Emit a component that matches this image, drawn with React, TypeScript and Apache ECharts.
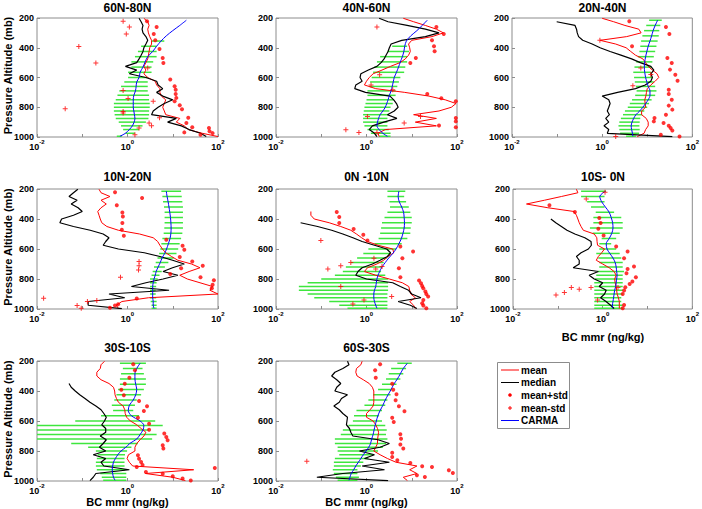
import { useEffect, useRef } from "react";
import * as echarts from "echarts";

// pressure levels (mb) of the observed profiles and of the CARMA model
const PO = [202, 225, 250, 275, 300, 325, 350, 375, 400, 425, 450, 475, 500, 525, 550, 575, 600, 625, 650, 675, 700, 725, 750, 775, 800, 825, 850, 875, 900, 925, 950, 975, 997];
const PM = [215, 250, 285, 320, 355, 390, 425, 460, 495, 530, 565, 600, 630, 660, 690, 720, 750, 775, 800, 825, 850, 875, 900, 925, 950, 975, 995];

const TITLES = ["60N-80N", "40N-60N", "20N-40N", "10N-20N", "0N -10N", "10S- 0N", "30S-10S", "60S-30S"];
const Y_NAME = "Pressure Altitude (mb)";
const X_NAME = "BC mmr (ng/kg)";
const LEGEND_NAMES = ["mean", "median", "mean+std", "mean-std", "CARMA"];

// ---------- 60N-80N ----------
const median1 = [1.8, 2.0, 2.2, 2.1, 2.2, 2.55, 2.8, 2.55, 2.3, 2.2, 2.0, 1.8, 1.6, 0.9, 1.6, 1.1, 2.55, 4.4, 4.75, 6.0, 4.4, 6.0, 10, 6.5, 4.75, 3.7, 3.4, 12, 7.7, 15.5, 23, 41, 55];
const mean1 = [2.3, 2.8, 3.0, 2.8, 2.9, 3.1, 3.4, 3.4, 3.1, 3.0, 2.9, 2.8, 2.55, 2.3, 2.55, 2.3, 2.8, 4.1, 4.4, 5.2, 5.2, 5.6, 7.0, 6.5, 6.0, 6.5, 7.0, 14.3, 12, 18, 22, 45, 100];
const dotP1 = [222, 260, 307, 350, 408, 469, 502, 614, 659, 682, 711, 737, 759, 787, 814, 870, 906, 935, 940, 962, 974, 969, 985];
const dotX1 = [2.7, 4.4, 3.8, 4.1, 5.1, 6.0, 6.2, 8.8, 11, 11.6, 11.6, 12, 11, 14.3, 16, 22, 20, 27, 63, 65, 76, 18, 41];
const plusP1 = [222, 260, 307, 391, 502, 536, 687, 742, 760, 810, 828, 839, 870, 906, 924, 940, 985];
const plusX1 = [0.8, 1.1, 0.94, 0.084, 0.2, 2.8, 0.8, 1.03, 3.7, 0.042, 0.8, 0.8, 5.1, 3.0, 3.4, 1.8, 1.46];
const carma1 = [20, 14.3, 10, 7.2, 5.5, 4.4, 3.6, 2.8, 2.45, 2.2, 1.9, 1.8, 1.6, 1.55, 1.5, 1.38, 1.34, 1.34, 1.34, 1.38, 1.42, 1.46, 1.4, 1.28, 1.1, 0.9, 0.68];
const lo1 = [null, null, null, null, 3.4, 2.0, 1.7, 1.46, 1.22, 1.22, 1.03, 1.03, 0.85, 0.72, 0.66, 0.6, 0.55, 0.5, 0.5, 0.5, 0.52, 0.55, 0.64, 0.72, 0.8, 0.9, 0.58];
const hi1 = [null, null, null, null, 6.5, 4.4, 4.4, 4.4, 3.7, 3.4, 3.4, 2.8, 2.8, 2.8, 2.8, 3.0, 3.0, 3.1, 3.1, 3.0, 3.0, 2.9, 2.55, 2.15, 1.8, 1.46, 0.75];

// ---------- 40N-60N ----------
const median2 = [1.9, 3.0, 7.9, 20, 40, 20, 6, 3.5, 3.2, 3.0, 2.7, 2.45, 2.1, 1.7, 1.1, 0.75, 0.72, 0.8, 0.58, 0.55, 0.95, 3.3, 4.0, 4.6, 5.0, 4.1, 2.9, 4.7, 2.4, 1.35, 1.15, 1.5, 1.7];
const mean2 = [6.5, 11, 20, 35, 50, 28, 10, 8.5, 9, 9.3, 8.5, 7.2, 5.5, 3.4, 2.2, 1.4, 1.15, 1.0, 0.9, 1.6, 7, 24, 55, 95, 75, 40, 11, 35, 12, 35, 2.6, 1.8, 1.9];
const dotP2 = [260, 307, 350, 390, 424, 469, 502, 711, 740, 760, 872, 895, 922, 935];
const dotX2 = [35, 51, 28, 31, 32, 12.3, 9.3, 22, 45, 94, 94, 94, 40, 94];
const plusP2 = [260, 581, 650, 682, 862, 862, 906, 951, 969, 969];
const plusX2 = [1.7, 1.95, 1.26, 3.8, 1.05, 15.6, 6.8, 0.35, 0.68, 1.7];
const carma2 = [22, 17, 13, 9.5, 7.6, 7.0, 6.7, 6.2, 5.6, 5.1, 4.6, 4.1, 3.9, 3.7, 3.5, 3.2, 3.0, 2.8, 2.6, 2.3, 2.0, 1.85, 1.75, 1.7, 1.9, 2.3, 2.9];
const lo2 = [null, null, null, null, null, 3.7, 2.9, 2.0, 1.7, 1.5, 1.4, 1.3, 1.2, 1.15, 1.05, 1.05, 1.0, 0.95, 0.9, 0.87, 0.84, 0.84, 0.84, 0.9, 1.05, 1.25, 1.9];
const hi2 = [null, null, null, null, null, 7.9, 8.7, 7.9, 7.9, 7.2, 6.8, 5.6, 5.2, 4.8, 4.4, 4.4, 4.0, 3.8, 3.4, 3.2, 3.1, 2.9, 2.9, 2.9, 3.1, 3.4, 3.4];

// ---------- 20N-40N ----------
const median3 = [null, 0.098, 0.25, 0.27, 0.28, 0.3, 0.37, 0.6, 0.9, 1.5, 2.6, 4.5, 7.0, 12, 14, 12, 13, 12, 9, 5.5, 2.2, 1.0, 1.4, 1.5, 1.4, 1.3, 1.45, 1.2, 1.4, 1.1, 1.4, 1.3, 36];
const mean3 = [1.0, 1.8, 3.2, 6.5, 7.3, 3.5, 0.9, 2.0, 3.4, 4.3, 5.5, 8.0, 9.2, 10.5, 13, 16.5, 18, 15, 12, 10, 9.6, 9.3, 8.8, 9.0, 9.2, 7.5, 7.5, 9.5, 10.5, 10.5, 9.2, 8.5, 6];
const dotP3 = [222, 260, 307, 390, 469, 502, 547, 581, 622, 682, 711, 749, 789, 816, 850, 872, 895, 906, 924, 940, 957, 985, 996];
const dotX3 = [4, 26, 31, 4.6, 28, 35, 32, 42, 47, 30, 30, 35, 30, 36, 26, 14.5, 14, 23, 30, 33, 36, 20, 52];
const plusP3 = [350, 536, 580, 655, 996];
const plusX3 = [0.89, 7.2, 12, 4.8, 2.0];
const carma3 = [17, 15, 13.5, 12.5, 11.5, 10.5, 9.8, 9.2, 8.8, 8.6, 8.8, 9.2, 9.8, 10.5, 11.5, 11.5, 10.5, 9.2, 8.0, 6.8, 5.6, 5.0, 4.6, 4.4, 4.5, 4.7, 4.8];
const lo3 = [11, 9.5, 8.5, 7.8, 7.3, 7.0, 6.7, 6.2, 5.7, 5.2, 4.9, 5.1, 5.3, 5.6, 5.8, 5.4, 4.6, 4.1, 3.7, 3.2, 2.9, 2.6, 2.4, 2.3, 2.4, 2.5, 3.4];
const hi3 = [21, 19.5, 18.5, 18, 17, 16, 15, 14, 13, 12.3, 12, 13, 14, 15, 16, 15, 12.5, 11, 10, 8.6, 7.7, 7, 6.8, 6.7, 6.8, 6.6, 5.6];

// ---------- 10N-20N ----------
const median4 = [0.08, 0.064, 0.051, 0.077, 0.057, 0.081, 0.1, 0.064, 0.035, 0.032, 0.064, 0.15, 0.29, 0.39, 0.33, 0.29, 0.63, 2.35, 5.2, 9.9, 18, 9.9, 6.1, 13, 6.1, 2.55, 1.22, 8.3, 0.39, 0.87, 0.135, 0.135, 0.75];
const mean4 = [0.235, 0.26, 0.41, 0.26, 0.34, 0.26, 0.22, 0.235, 0.25, 0.27, 0.35, 0.63, 1.85, 3.7, 4.65, 5.2, 5.9, 7.0, 9.4, 13, 26, 40, 23, 14.3, 21, 40, 76, 66, 100, 2.9, 0.75, 0.57, 0.63];
const dotP4 = [222, 260, 309, 356, 383, 427, 472, 512, 539, 579, 605, 654, 683, 712, 728, 766, 788, 808, 839, 861, 930, 968, 977, 991];
const dotX4 = [0.53, 2.1, 0.58, 0.77, 0.79, 0.77, 0.75, 0.83, 7.2, 16.5, 18, 14.3, 27, 46, 15.3, 8.8, 41, 81, 76, 73, 1.6, 0.62, 0.53, 0.41];
const plusP4 = [683, 712, 740, 788, 928, 944, 950, 977, 995];
const plusX4 = [1.8, 1.8, 1.75, 0.7, 0.014, 0.21, 0.13, 0.077, 0.095];
const carma4 = [7.2, 7.5, 7.9, 8.25, 8.6, 8.9, 9.1, 9.2, 9.1, 8.7, 8.0, 7.3, 6.6, 5.8, 5.3, 4.75, 4.3, 4.1, 3.85, 3.7, 3.6, 3.6, 3.6, 3.6, 3.7, 3.7, 3.85];
const lo4 = [5.6, 5.9, 6.1, 6.4, 6.6, 6.6, 6.6, 6.5, 6.3, 5.9, 5.6, 5.3, 5.0, 4.6, 4.2, 3.85, 3.6, 3.4, 3.15, 3.15, 3.15, 3.15, 3.15, 3.15, 3.25, 3.4, 3.4];
const hi4 = [15.3, 15.8, 16.3, 16.8, 16.8, 16.8, 16.8, 16.8, 16.3, 15.3, 14.2, 13.2, 12.1, 10.5, 8.0, 6.7, 5.7, 5.1, 4.65, 4.4, 4.3, 4.2, 4.2, 4.3, 4.4, 4.4, 4.4];

// ---------- 0N -10N ----------
const median5 = [null, null, null, null, null, null, null, null, null, 0.035, 0.083, 0.17, 0.3, 0.5, 0.8, 1.5, 2.8, 3.4, 2.9, 2.0, 1.35, 0.8, 0.65, 0.58, 1.0, 3.8, 5.6, 8.5, 10, 16, 5, 9.3, 13];
const mean5 = [null, null, null, null, null, null, 0.059, 0.059, 0.07, 0.15, 0.27, 0.45, 0.6, 0.78, 1.05, 1.8, 3.8, 4.0, 3.0, 2.4, 1.7, 1.05, 0.9, 1.6, 3.2, 6.2, 8.6, 9.0, 9.5, 12, 9, 11, 12];
const dotP5 = [354, 387, 427, 467, 505, 543, 583, 616, 661, 728, 788, 810, 828, 846, 861, 884, 900, 917, 940, 962, 977, 995];
const dotX5 = [0.22, 0.25, 0.25, 0.52, 0.85, 1.05, 5.6, 10.7, 6.2, 5.2, 5.6, 14.5, 16, 17, 18, 20, 21, 23, 18, 17, 18, 21];
const plusP5 = [543, 661, 690, 712, 717, 734, 734, 850, 917, 940, 966];
const plusX5 = [0.098, 1.46, 0.45, 0.27, 2.2, 0.14, 1.6, 0.27, 3.6, 0.88, 0.5];
const carma5 = [5.2, 5.0, 5.3, 6.0, 6.6, 6.8, 6.9, 6.8, 6.4, 5.9, 5.2, 4.5, 3.8, 3.1, 2.6, 2.2, 1.95, 1.8, 1.7, 1.65, 1.6, 1.5, 1.45, 1.45, 1.5, 1.6, 1.7];
const lo5 = [2.9, 2.9, 3.2, 3.3, 2.9, 2.5, 2.2, 2.1, 2.0, 1.85, 1.5, 1.1, 0.85, 0.62, 0.45, 0.35, 0.3, 0.2, 0.1, 0.05, 0.032, 0.032, 0.05, 0.07, 0.15, 0.25, 0.38];
const hi5 = [7.2, 6.8, 7.5, 8.6, 9.3, 10, 10, 9.5, 9.3, 8.0, 6.0, 4.5, 3.4, 2.8, 2.4, 2.2, 2.1, 2.6, 3.0, 3.0, 3.0, 3.0, 2.9, 2.9, 2.9, 2.9, 2.9];

// ---------- 10S- 0N ----------
const median6 = [null, null, null, null, null, null, null, null, 0.07, 0.09, 0.12, 0.16, 0.24, 0.4, 0.55, 0.56, 0.48, 0.33, 0.26, 0.3, 0.3, 0.22, 0.8, 0.5, 0.65, 1.0, 0.84, 1.2, 1.1, 0.9, 1.19, 1.5, 1.8];
const mean6 = [0.26, 0.28, 0.12, 0.05, 0.02, 0.06, 0.23, 0.26, 0.28, 0.3, 0.33, 0.37, 0.65, 0.74, 0.75, 0.77, 1.1, 0.95, 0.8, 0.72, 1.0, 1.4, 1.8, 2.0, 1.85, 1.9, 2.0, 2.05, 2.1, 2.25, 2.35, 2.35, 2.35];
const dotP6 = [309, 354, 394, 427, 465, 510, 583, 616, 661, 716, 734, 761, 788, 817, 833, 855, 877, 900, 973, 995];
const dotX6 = [0.065, 0.24, 0.84, 0.9, 0.8, 1.05, 2.0, 3.6, 3.0, 5.0, 3.6, 3.4, 5.5, 4.6, 4.0, 3.2, 3.0, 2.8, 3.0, 2.8];
const plusP6 = [222, 267, 857, 857, 868, 890, 906, 940, 857];
const plusX6 = [1.13, 0.43, 0.2, 0.55, 0.3, 0.14, 0.091, 0.77, 2.2];
const carma6 = [1.15, 0.86, 0.95, 1.15, 1.4, 1.55, 1.67, 1.7, 1.6, 1.4, 1.2, 1.25, 1.45, 1.7, 1.9, 2.0, 2.05, 2.1, 2.05, 2.0, 1.95, 1.85, 1.8, 1.75, 1.7, 1.65, 1.65];
const lo6 = [0.33, 0.33, 0.45, 0.55, 0.7, 0.62, 0.62, 0.52, 0.6, 0.95, 0.84, 0.84, 0.72, 0.8, 0.84, 0.84, 0.77, 0.72, 0.67, 0.65, 0.65, 0.65, 0.65, 0.65, 0.65, 0.65, 0.65];
const hi6 = [1.19, 1.1, 1.1, 1.1, 1.8, 2.6, 2.8, 2.8, 2.4, 2.0, 1.55, 2.0, 2.4, 2.6, 2.8, 2.8, 3.0, 2.8, 2.8, 2.8, 2.8, 2.8, 2.8, 2.6, 2.6, 2.8, 2.8];

// ---------- 30S-10S ----------
const median7 = [null, null, null, null, null, null, 0.051, 0.057, 0.07, 0.088, 0.115, 0.148, 0.2, 0.26, 0.3, 0.34, 0.31, 0.27, 0.33, 0.33, 0.25, 0.34, 0.29, 0.24, 0.33, 0.175, 0.33, 0.26, 0.3, 1.1, 0.2, 0.175, 0.148];
const mean7 = [0.31, 0.26, 0.25, 0.21, 0.21, 0.26, 0.39, 0.49, 0.52, 0.53, 0.57, 0.63, 0.8, 0.87, 0.89, 0.96, 1.16, 1.6, 2.0, 2.55, 2.3, 1.9, 1.6, 1.46, 1.46, 1.05, 0.98, 1.1, 1.3, 29, 2.5, 10, 19];
const dotP7 = [222, 262, 311, 351, 391, 429, 467, 502, 533, 578, 618, 658, 684, 706, 729, 762, 784, 829, 851, 873, 893, 907, 913, 940, 951, 969, 984, 996];
const dotX7 = [1.34, 1.46, 1.1, 0.87, 0.73, 0.83, 1.8, 2.7, 2.3, 1.7, 3.0, 3.0, 6.5, 7.2, 7.7, 6.0, 6.2, 1.7, 1.8, 2.0, 2.15, 1.6, 85, 2.55, 6.0, 10, 16.5, 25];
const plusP7: number[] = [];
const plusX7: number[] = [];
const carma7 = [1.9, 1.6, 1.46, 1.46, 1.52, 1.6, 1.52, 1.34, 1.1, 1.04, 1.22, 1.9, 2.3, 2.2, 1.9, 1.6, 1.12, 0.92, 0.72, 0.61, 0.54, 0.49, 0.47, 0.46, 0.47, 0.49, 0.53];
const lo7 = [0.68, 0.79, 0.72, 0.68, 0.68, 0.62, 0.57, 0.51, 0.45, 0.48, 0.26, 0.07, 0.01, 0.01, 0.01, 0.01, 0.057, 0.135, 0.2, 0.22, 0.21, 0.2, 0.2, 0.21, 0.25, 0.27, 0.29];
const hi7 = [2.55, 2.15, 2.3, 2.55, 2.55, 2.3, 2.0, 1.6, 1.46, 1.34, 1.8, 4.1, 6.0, 3.0, 4.4, 3.5, 1.7, 1.22, 0.98, 0.88, 0.86, 0.86, 0.86, 0.88, 0.94, 0.94, 0.94];

// ---------- 60S-30S ----------
const median8 = [0.38, 0.41, 0.3, 0.2, 0.17, 0.22, 0.27, 0.22, 0.2, 0.38, 0.28, 0.25, 0.19, 0.25, 0.3, 0.38, 0.37, 0.36, 0.42, 0.45, 0.5, 1.8, 3.2, 2.0, 0.7, 1.5, 0.9, 3.2, 0.8, 2.5, 0.3, 0.08, 3.0];
const mean8 = [0.8, 0.75, 0.6, 0.58, 0.62, 0.85, 1.15, 1.35, 1.45, 1.45, 1.45, 1.45, 1.4, 1.2, 1.0, 1.0, 1.4, 1.6, 1.75, 1.85, 1.8, 1.75, 1.75, 1.6, 1.45, 2.0, 2.9, 4.5, 13, 9, 13, 6.5, 8];
const dotP8 = [222, 262, 311, 351, 391, 422, 462, 502, 535, 578, 607, 689, 718, 756, 784, 811, 840, 862, 880, 902, 907, 929, 947, 962, 973];
const dotX8 = [2.0, 1.55, 1.6, 3.7, 3.9, 4.6, 4.4, 5.2, 6.9, 3.7, 4.0, 5.6, 5.8, 5.6, 6.5, 3.7, 3.7, 4.8, 9.3, 17, 28, 66, 81, 13, 19.5];
const plusP8 = [869];
const plusX8 = [0.048];
const carma8 = [8.0, 6.5, 5.6, 4.8, 4.0, 3.5, 3.0, 2.6, 2.3, 2.0, 1.78, 1.65, 1.55, 1.47, 1.4, 1.3, 1.23, 1.12, 0.98, 0.85, 0.75, 0.66, 0.58, 0.52, 0.46, 0.43, 0.41];
const lo8 = [4.8, 3.5, 3.1, 2.7, 2.2, 1.8, 1.4, 1.1, 0.9, 0.6, 0.53, 0.5, 0.4, 0.3, 0.27, 0.2, 0.2, 0.23, 0.23, 0.25, 0.2, 0.19, 0.19, 0.18, 0.19, 0.21, 0.23];
const hi8 = [10, 7.5, 6.5, 5.6, 4.6, 3.6, 3.4, 2.9, 2.6, 2.2, 1.9, 2.2, 2.6, 2.8, 2.7, 2.9, 2.7, 2.3, 1.8, 1.4, 1.1, 0.85, 0.75, 0.63, 0.63, 0.68, 0.63];

const PANELS = [
  { mean: mean1, median: median1, dotP: dotP1, dotX: dotX1, plusP: plusP1, plusX: plusX1, carma: carma1, lo: lo1, hi: hi1 },
  { mean: mean2, median: median2, dotP: dotP2, dotX: dotX2, plusP: plusP2, plusX: plusX2, carma: carma2, lo: lo2, hi: hi2 },
  { mean: mean3, median: median3, dotP: dotP3, dotX: dotX3, plusP: plusP3, plusX: plusX3, carma: carma3, lo: lo3, hi: hi3 },
  { mean: mean4, median: median4, dotP: dotP4, dotX: dotX4, plusP: plusP4, plusX: plusX4, carma: carma4, lo: lo4, hi: hi4 },
  { mean: mean5, median: median5, dotP: dotP5, dotX: dotX5, plusP: plusP5, plusX: plusX5, carma: carma5, lo: lo5, hi: hi5 },
  { mean: mean6, median: median6, dotP: dotP6, dotX: dotX6, plusP: plusP6, plusX: plusX6, carma: carma6, lo: lo6, hi: hi6 },
  { mean: mean7, median: median7, dotP: dotP7, dotX: dotX7, plusP: plusP7, plusX: plusX7, carma: carma7, lo: lo7, hi: hi7 },
  { mean: mean8, median: median8, dotP: dotP8, dotX: dotX8, plusP: plusP8, plusX: plusX8, carma: carma8, lo: lo8, hi: hi8 },
];

// layout
const GRIDS = [
  { left: 37, top: 18, width: 181, height: 119 },
  { left: 276, top: 18, width: 181, height: 119 },
  { left: 512, top: 18, width: 181, height: 119 },
  { left: 37, top: 189, width: 181, height: 120 },
  { left: 276, top: 189, width: 181, height: 120 },
  { left: 513, top: 189, width: 180, height: 120 },
  { left: 37, top: 361, width: 181, height: 120 },
  { left: 276, top: 361, width: 181, height: 120 },
];
const TITLE_Y = [8, 8, 8, 177, 177, 177, 348, 348];
const Y_NAME_PANELS = [0, 3, 6];
const X_NAME_POS = [
  { panel: 5, y: 337 },
  { panel: 6, y: 502 },
  { panel: 7, y: 502 },
];

const FONT = '"Liberation Sans", Arial, Helvetica, sans-serif';
const RED = "#ff0000";
const BLACK = "#000000";
const BLUE = "#0000ff";
const GREEN = "#3ee63e";
const FRAME = "#8c8c8c";
const PLUS = "path://M4,0H6V4H10V6H6V10H4V6H0V4H4Z";

const pairs = (xs: (number | null)[], ps: number[]) =>
  xs.map((x, i) => [x, ps[i]]).filter((d) => d[0] != null);

function buildOption() {
  const series: any[] = [];
  PANELS.forEach((pn, i) => {
    const bars = pn.lo
      .map((l, k) => (l != null && pn.hi[k] != null ? [l, pn.hi[k], PM[k]] : null))
      .filter((d) => d != null);
    series.push({
      type: "custom",
      xAxisIndex: i,
      yAxisIndex: i,
      z: 1,
      clip: true,
      encode: { x: [0, 1], y: 2 },
      data: bars,
      renderItem: (_params: any, api: any) => {
        const a = api.coord([api.value(0), api.value(2)]);
        const b = api.coord([api.value(1), api.value(2)]);
        return {
          type: "line",
          shape: { x1: a[0], y1: a[1], x2: b[0], y2: b[1] },
          style: { stroke: GREEN, lineWidth: 1.5 },
        };
      },
    });
    series.push({
      type: "line", name: "mean", xAxisIndex: i, yAxisIndex: i, z: 3,
      data: pairs(pn.mean, PO), symbol: "none", clip: true,
      lineStyle: { color: RED, width: 1 },
    });
    series.push({
      type: "line", name: "median", xAxisIndex: i, yAxisIndex: i, z: 4,
      data: pairs(pn.median, PO), symbol: "none", clip: true,
      lineStyle: { color: BLACK, width: 1.2 },
    });
    series.push({
      type: "line", name: "CARMA", xAxisIndex: i, yAxisIndex: i, z: 5,
      data: pairs(pn.carma, PM), symbol: "none", clip: true, smooth: 0.3,
      lineStyle: { color: BLUE, width: 1 },
    });
    series.push({
      type: "scatter", name: "mean+std", xAxisIndex: i, yAxisIndex: i, z: 6,
      data: pairs(pn.dotX, pn.dotP), symbol: "circle", symbolSize: 4,
      itemStyle: { color: RED },
    });
    series.push({
      type: "scatter", name: "mean-std", xAxisIndex: i, yAxisIndex: i, z: 6,
      data: pairs(pn.plusX, pn.plusP), symbol: PLUS, symbolSize: 5,
      itemStyle: { color: RED },
    });
  });

  const graphic: any[] = [];
  const txt = (text: string, x: number, y: number, size: number, extra: any = {}) => ({
    type: "text",
    x,
    y,
    silent: true,
    ...extra,
    style: {
      text,
      font: `bold ${size}px ${FONT}`,
      fill: "#000",
      textAlign: extra.align || "center",
      align: extra.align || "center",
      textVerticalAlign: "middle",
      verticalAlign: "middle",
    },
  });
  GRIDS.forEach((g, i) => {
    graphic.push(txt(TITLES[i], g.left + g.width / 2, TITLE_Y[i], 12));
  });
  Y_NAME_PANELS.forEach((i) => {
    const g = GRIDS[i];
    graphic.push(txt(Y_NAME, 8, g.top + g.height / 2 - 2, 11, { rotation: Math.PI / 2 }));
  });
  X_NAME_POS.forEach(({ panel, y }) => {
    const g = GRIDS[panel];
    graphic.push(txt(X_NAME, g.left + g.width / 2, y, 11));
  });

  // legend box
  const LX = 497, LY = 362;
  graphic.push({
    type: "rect", silent: true,
    shape: { x: LX + 0.5, y: LY + 0.5, width: 72, height: 66 },
    style: { fill: "#fff", stroke: FRAME, lineWidth: 1 },
  });
  const rows = [370, 382.5, 395, 408, 420.5];
  rows.forEach((yy, k) => {
    if (k === 0 || k === 1 || k === 4) {
      graphic.push({
        type: "line", silent: true,
        shape: { x1: LX + 4, y1: yy, x2: LX + 22, y2: yy },
        style: { stroke: k === 0 ? RED : k === 1 ? BLACK : BLUE, lineWidth: 1 },
      });
    } else if (k === 2) {
      graphic.push({
        type: "circle", silent: true,
        shape: { cx: LX + 13, cy: yy, r: 1.8 },
        style: { fill: RED },
      });
    } else {
      graphic.push({
        type: "line", silent: true,
        shape: { x1: LX + 11, y1: yy, x2: LX + 15, y2: yy },
        style: { stroke: RED, lineWidth: 1 },
      });
      graphic.push({
        type: "line", silent: true,
        shape: { x1: LX + 13, y1: yy - 2, x2: LX + 13, y2: yy + 2 },
        style: { stroke: RED, lineWidth: 1 },
      });
    }
    graphic.push(txt(LEGEND_NAMES[k], LX + 24, yy, 10, { align: "left" }));
  });

  return {
    animation: false,
    backgroundColor: "#ffffff",
    grid: GRIDS.map((g) => ({ ...g, show: true, borderColor: FRAME, borderWidth: 1, backgroundColor: "transparent" })),
    xAxis: GRIDS.map((_g, i) => ({
      type: "log",
      logBase: 10,
      min: 0.01,
      max: 100,
      gridIndex: i,
      axisLine: { show: false },
      axisTick: { show: true, inside: true, length: 3, lineStyle: { color: FRAME } },
      splitLine: { show: false },
      axisLabel: {
        margin: 2,
        formatter: (v: number) => {
          const e = Math.round(Math.log10(v));
          if (e % 2 !== 0) return "";
          return "{b|10}{s|" + e + "}";
        },
        rich: {
          b: { fontSize: 9, fontWeight: "bold", fontFamily: FONT, color: "#000", lineHeight: 12, verticalAlign: "bottom" },
          s: { fontSize: 6, fontWeight: "bold", fontFamily: FONT, color: "#000", lineHeight: 4, verticalAlign: "top" },
        },
      },
    })),
    yAxis: GRIDS.map((_g, i) => ({
      type: "value",
      min: 200,
      max: 1000,
      interval: 200,
      inverse: true,
      gridIndex: i,
      axisLine: { show: false },
      axisTick: { show: true, inside: true, length: 3, lineStyle: { color: FRAME } },
      splitLine: { show: false },
      axisLabel: {
        margin: 3,
        fontSize: 9,
        fontWeight: "bold",
        fontFamily: FONT,
        color: "#000",
        formatter: (v: number) => String(v),
      },
    })),
    series,
    graphic,
  };
}

export default function App() {
  const ref = useRef<HTMLDivElement>(null);
  useEffect(() => {
    if (!ref.current) return;
    const chart = echarts.init(ref.current, undefined, { renderer: "svg" });
    chart.setOption(buildOption() as any);
    return () => chart.dispose();
  }, []);
  return (
    <div
      ref={ref}
      style={{ position: "fixed", left: 0, top: 0, width: 702, height: 509, background: "#fff" }}
    />
  );
}
